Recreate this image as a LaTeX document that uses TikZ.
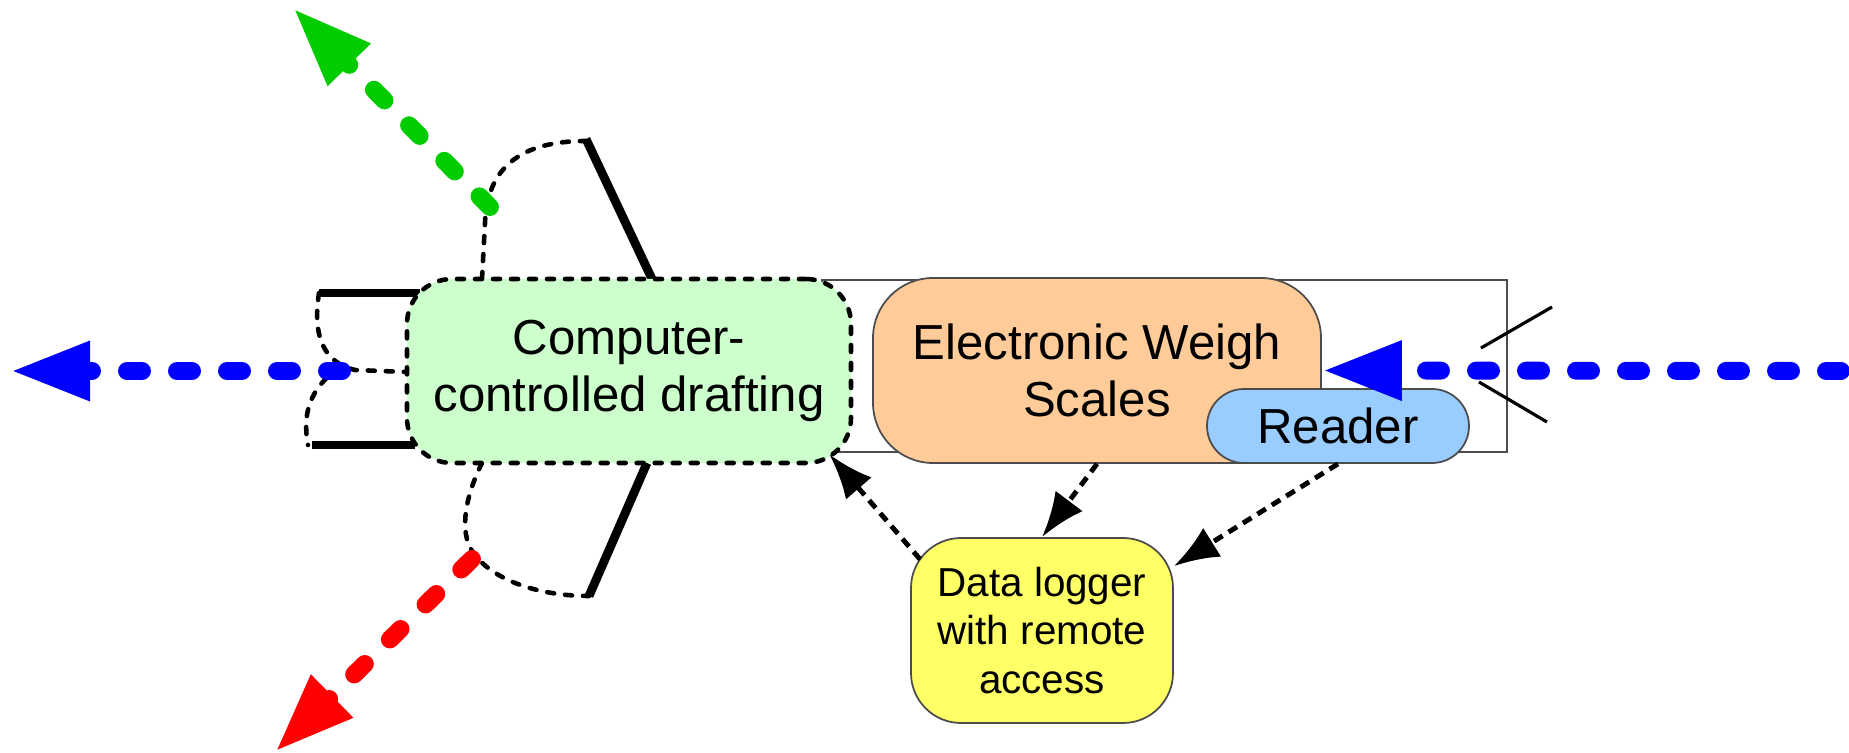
\documentclass[tikz,border=0pt]{standalone}
\usepackage{fontspec}
\setmainfont{Liberation Sans}
\usetikzlibrary{arrows.meta}

\definecolor{draftgreen}{HTML}{CCFFCC}
\definecolor{scaleorange}{HTML}{FFCC99}
\definecolor{readerblue}{HTML}{99CCFF}
\definecolor{loggeryellow}{HTML}{FFFF66}
\definecolor{exitgreen}{HTML}{00CC00}

\tikzset{
  unit/.style={align=center, inner sep=0pt, font=\fontsize{14}{16.4}\selectfont},
  solidunit/.style={unit, draw=black!70, line width=0.5pt},
  flap/.style={line width=1.3pt, dash pattern=on 0.07cm off 0.11cm, line cap=round},
  gate/.style={line width=2.5pt},
  lane/.style={line width=5.1pt, dash pattern=on 0.15cm off 0.35cm, line cap=round,
    -{Triangle[length=0.8cm, width=0.55cm]}},
  datalink/.style={line width=1.4pt, dash pattern=on 0.1cm off 0.07cm,
    -{Latex[length=0.45cm, width=0.34cm]}},
}

\begin{document}
\begin{tikzpicture}
        \useasboundingbox (0,0) rectangle (18.49,7.53);

        \draw [black!70, line width=0.4pt] (8.22,3.01) rectangle (15.07,4.73);

        \draw [gate] (3.19,4.60) -- (4.20,4.60);
        \draw [gate] (3.12,3.08) -- (4.15,3.08);
        \draw [gate] (5.86,6.14) -- (6.52,4.74);
        \draw [gate] (6.47,2.90) -- (5.89,1.57);

        \draw [flap] (4.82,4.74) -- (4.85,5.30) .. controls (4.87,5.85) and (5.20,6.12) .. (5.86,6.12);
        \draw [flap] (4.82,2.90) .. controls (4.62,2.50) and (4.60,2.15) .. (4.75,1.98)
                                 .. controls (4.95,1.72) and (5.40,1.57) .. (5.89,1.57);
        \draw [flap] (3.19,4.60) .. controls (3.12,4.15) and (3.25,3.90) .. (3.55,3.83) -- (4.07,3.81);
        \draw [flap] (3.40,3.86) .. controls (3.10,3.65) and (3.02,3.40) .. (3.08,3.08);

        \draw [lane, blue] (3.42,3.82) -- (0.10,3.82);
        \draw [lane, exitgreen] (4.90,5.46) -- (2.93,7.45);
        \draw [lane, red] (4.72,1.94) -- (2.75,0.01);

        \node [unit, draw, flap, fill=draftgreen, rounded corners=0.45cm,
               minimum width=4.44cm, minimum height=1.84cm] (draft) at (6.29,3.82) {Computer-\\controlled drafting};
        \node [solidunit, fill=scaleorange, rounded corners=0.6cm,
               minimum width=4.48cm, minimum height=1.85cm] (scales) at (10.97,3.825) {Electronic Weigh\\Scales};
        \node [solidunit, fill=readerblue, rounded corners=0.37cm,
               minimum width=2.62cm, minimum height=0.74cm] (reader) at (13.38,3.27) {Reader};
        \node [solidunit, fill=loggeryellow, rounded corners=0.5cm, font=\fontsize{11.5}{13.7}\selectfont,
               minimum width=2.62cm, minimum height=1.85cm] (logger) at (10.42,1.225) {Data logger\\with remote\\access};

        \draw [lane, blue] (18.41,3.82) -- (scales.east);

        \draw [line width=0.9pt] (14.81,4.05) -- (15.52,4.46);
        \draw [line width=0.9pt] (14.79,3.71) -- (15.47,3.31);

        \draw [datalink] (scales.south) -- (logger.north);
        \draw [datalink] (reader.south) -- (logger.26);
        \draw [datalink] ([shift={(0.1,-0.05)}]logger.150) -- ([shift={(-0.24,0.11)}]draft.south east);
\end{tikzpicture}
\end{document}
